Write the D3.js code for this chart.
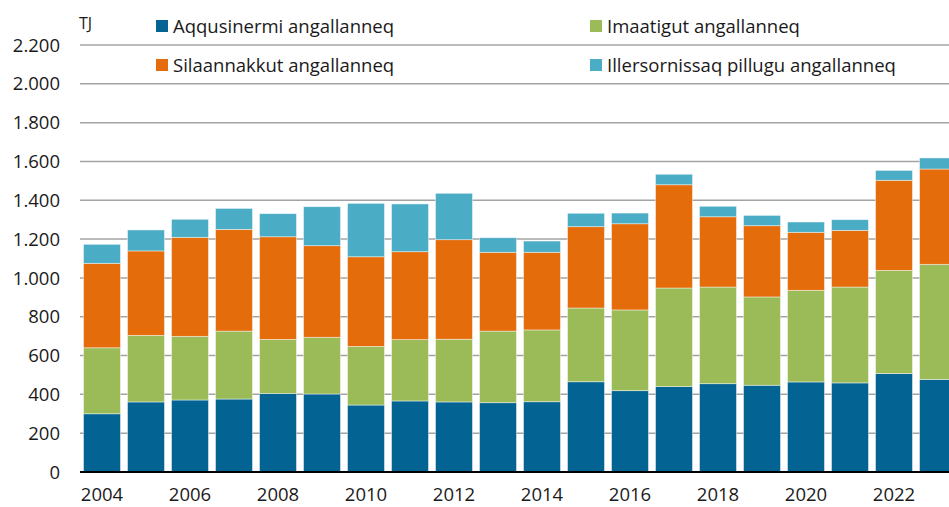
<!DOCTYPE html>
<html>
<head>
<meta charset="utf-8">
<script src="https://cdn.jsdelivr.net/npm/d3@7"></script>
<style>
  html, body { margin: 0; padding: 0; background: #fff; overflow: hidden; }
  svg { display: block; font-family: "Open Sans", sans-serif; }
</style>
</head>
<body>
<div id="graf"></div>
<script>
// data (TJ)
let years = [2004, 2005, 2006, 2007, 2008, 2009, 2010, 2011, 2012, 2013,
             2014, 2015, 2016, 2017, 2018, 2019, 2020, 2021, 2022, 2023];
let aqqusinermi = [300, 361, 371, 376, 404, 402, 345, 366, 361, 357,
                   362, 465, 419, 440, 455, 447, 464, 459, 507, 477];
let imaatigut   = [340, 343, 328, 350, 279, 292, 302, 316, 323, 369,
                   370, 380, 416, 508, 498, 455, 472, 494, 532, 593];
let silaannakkut = [435, 435, 510, 524, 529, 472, 462, 453, 513, 406,
                    400, 419, 444, 532, 362, 367, 299, 292, 464, 491];
let illersornissaq = [98, 108, 93, 108, 119, 201, 275, 246, 239, 75,
                      58, 69, 55, 54, 54, 53, 53, 55, 51, 57];
let seriesNames = ["Aqqusinermi angallanneq", "Imaatigut angallanneq",
                   "Silaannakkut angallanneq", "Illersornissaq pillugu angallanneq"];
let yTicks = [0, 200, 400, 600, 800, 1000, 1200, 1400, 1600, 1800, 2000, 2200];

let colors = ["#036392", "#9bbb59", "#e46c0a", "#4bacc6"];
let keys = ["a", "i", "s", "p"];

const table = years.map((y, i) => ({
    year: y, a: aqqusinermi[i], i: imaatigut[i], s: silaannakkut[i], p: illersornissaq[i]
}));

let width = 949, height = 507;
let mLeft = 80, mTop = 45, mBottom = 472;
let fontSize = 18.5;

let svg = d3.select("#graf").append("svg")
            .attr("width", width)
            .attr("height", height);

let x = d3.scaleBand()
          .domain(years)
          .range([mLeft, mLeft + 44 * years.length])
          .paddingInner(0.16)
          .paddingOuter(0.08);

let y = d3.scaleLinear()
          .domain([0, 2200])
          .range([mBottom, mTop]);

let fmt = d3.formatLocale({ decimal: ",", thousands: ".", grouping: [3], currency: ["", ""] }).format(",d");

// grid
svg.append("g")
   .selectAll("line")
   .data(yTicks.slice(1))
   .join("line")
   .attr("x1", mLeft).attr("x2", width)
   .attr("y1", d => y(d)).attr("y2", d => y(d))
   .attr("stroke", "#a3a3a3")
   .attr("stroke-width", 1.5);

// y labels
svg.append("g")
   .attr("text-anchor", "end")
   .selectAll("text")
   .data(yTicks)
   .join("text")
   .attr("x", 60)
   .attr("y", d => y(d))
   .attr("dy", "0.36em")
   .attr("font-size", fontSize)
   .attr("fill", "#1a1a1a")
   .text(d => fmt(d));

const stacked = d3.stack().keys(keys)(table);

svg.append("g")
   .selectAll("g")
   .data(stacked)
   .join("g")
   .attr("fill", (d, i) => colors[i])
   .selectAll("rect")
   .data(d => d)
   .join("rect")
   .attr("x", d => x(d.data.year))
   .attr("width", x.bandwidth())
   .attr("y", d => y(d[1]))
   .attr("height", d => y(d[0]) - y(d[1]))
   .attr("stroke", "rgba(255,255,255,0.55)")
   .attr("stroke-width", 0.8);

// baseline
svg.append("line")
   .attr("x1", mLeft).attr("x2", width)
   .attr("y1", mBottom).attr("y2", mBottom)
   .attr("stroke", "#000")
   .attr("stroke-width", 2);

// x labels, every other year
svg.append("g")
   .attr("text-anchor", "middle")
   .selectAll("text")
   .data(years.filter(d => d % 2 === 0))
   .join("text")
   .attr("x", d => x(d) + x.bandwidth() / 2)
   .attr("y", 501)
   .attr("font-size", fontSize)
   .attr("fill", "#1a1a1a")
   .text(d => d);

// unit
svg.append("text")
   .attr("x", 79).attr("y", 23).attr("dy", "0.36em")
   .attr("font-size", 16)
   .attr("fill", "#1a1a1a")
   .text("TJ");

// legend
let legendPos = [[156, 26], [590, 26], [156, 65], [590, 65]];
const legend = svg.append("g")
   .selectAll("g")
   .data([0, 1, 2, 3])
   .join("g")
   .attr("transform", (d, i) => `translate(${legendPos[i][0]},${legendPos[i][1]})`);

legend.append("rect")
   .attr("x", 0).attr("y", -6)
   .attr("width", 12).attr("height", 12)
   .attr("fill", d => colors[d]);

legend.append("text")
   .attr("x", 17).attr("y", 0).attr("dy", "0.36em")
   .attr("font-size", fontSize)
   .attr("fill", "#1a1a1a")
   .text(d => seriesNames[d]);
</script>
</body>
</html>
